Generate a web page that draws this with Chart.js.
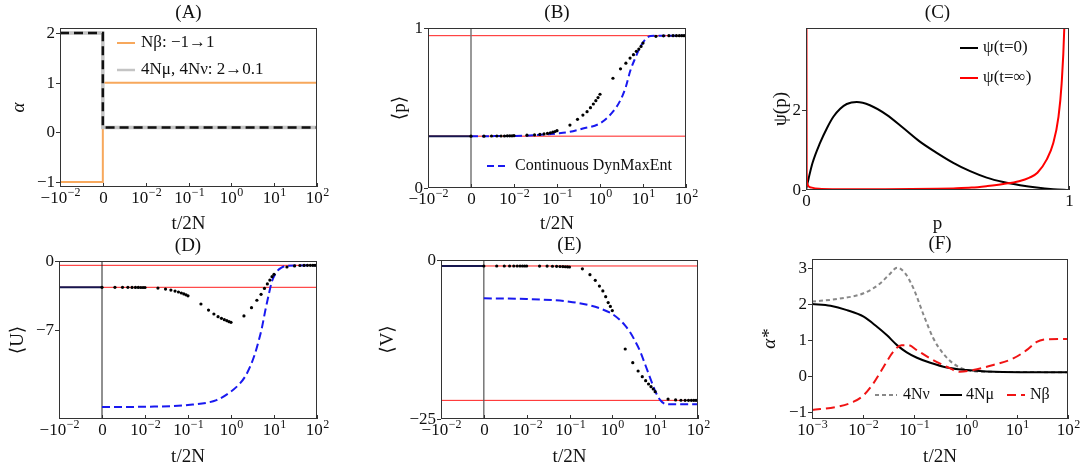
<!DOCTYPE html>
<html>
<head>
<meta charset="utf-8">
<script src="https://cdn.jsdelivr.net/npm/chart.js@4.4.1/dist/chart.umd.min.js"></script>
<style>
  html, body { margin: 0; padding: 0; background: #fff; }
  body { position: relative; width: 1083px; height: 472px; overflow: hidden; }
  .panel { position: absolute; }
</style>
</head>
<body>
<div class="panel" id="pA" style="left:8px;top:0;width:330px;height:235px"><canvas id="cA"></canvas></div>
<div class="panel" id="pB" style="left:389px;top:0;width:311px;height:235px"><canvas id="cB"></canvas></div>
<div class="panel" id="pC" style="left:770px;top:0;width:313px;height:235px"><canvas id="cC"></canvas></div>
<div class="panel" id="pD" style="left:7px;top:235px;width:331px;height:233px"><canvas id="cD"></canvas></div>
<div class="panel" id="pE" style="left:377px;top:235px;width:335px;height:233px"><canvas id="cE"></canvas></div>
<div class="panel" id="pF" style="left:759px;top:235px;width:324px;height:233px"><canvas id="cF"></canvas></div>
<script>
// ---- tick labels ----
const symTickValues = [-4, -3, -2, -1, 0, 1, 2];
const symTickLabels = [["−10", "−2"], ["0", ""], ["10", "−2"], ["10", "−1"], ["10", "0"], ["10", "1"], ["10", "2"]];
const logTickValues = [-3, -2, -1, 0, 1, 2];
const logTickLabels = [["10", "−3"], ["10", "−2"], ["10", "−1"], ["10", "0"], ["10", "1"], ["10", "2"]];

// ---- (A) parameter protocol ----
const protocolTimes = [-0.01, 0, 0, 100];
const nBeta = [-1, -1, 1, 1];
const mutationRates = [2, 2, 0.1, 0.1];

// ---- simulated points, shared times (t/2N) ----
const dotTimes = [0.001, 0.002, 0.003, 0.004, 0.005, 0.006, 0.007, 0.008, 0.009, 0.01,
  0.02, 0.03, 0.04, 0.05, 0.06, 0.07, 0.08, 0.09, 0.1,
  0.2, 0.3, 0.4, 0.5, 0.6, 0.7, 0.8, 0.9, 1,
  2, 3, 4, 5, 6, 7, 8, 9, 10,
  20, 30, 40, 50, 60, 70, 80, 90, 100];

// ---- (B) <p> ----
const pDots = [0.324, 0.324, 0.325, 0.325, 0.325, 0.325, 0.326, 0.326, 0.326, 0.327,
  0.330, 0.332, 0.335, 0.338, 0.341, 0.345, 0.349, 0.353, 0.358,
  0.393, 0.429, 0.456, 0.477, 0.502, 0.525, 0.546, 0.565, 0.586,
  0.686, 0.745, 0.780, 0.812, 0.833, 0.854, 0.868, 0.885, 0.906,
  0.948, 0.951, 0.952, 0.952, 0.952, 0.952, 0.952, 0.952, 0.952];
const pContTimes = [0.001, 0.01, 0.03, 0.1, 0.2, 0.4, 1, 2, 3, 4, 5, 6.6, 8.8, 11.5, 15, 20, 100];
const pCont = [0.324, 0.325, 0.330, 0.341, 0.351, 0.372, 0.404, 0.477, 0.550, 0.633, 0.728, 0.812, 0.885, 0.931, 0.950, 0.952, 0.952];
const pLevels = [0.324, 0.952];

// ---- (C) psi(p) ----
const psiP0 = [0, 0.01, 0.025, 0.053, 0.08, 0.104, 0.13, 0.155, 0.193, 0.243, 0.307, 0.37, 0.433, 0.497, 0.56, 0.624, 0.687, 0.75, 0.814, 0.877, 0.94, 1];
const psiStart = [0, 0.29, 0.68, 1.17, 1.55, 1.83, 2.03, 2.15, 2.2, 2.12, 1.88, 1.55, 1.21, 0.93, 0.68, 0.47, 0.31, 0.2, 0.12, 0.06, 0.02, 0];
const psiPInf = [0.001, 0.0025, 0.005, 0.01, 0.022, 0.05, 0.1, 0.3, 0.5, 0.56, 0.63, 0.69, 0.75, 0.81, 0.85, 0.88, 0.915, 0.94, 0.96, 0.972, 0.982, 0.995];
const psiEnd = [8, 0.5, 0.15, 0.09, 0.06, 0.03, 0.02, 0.02, 0.03, 0.04, 0.06, 0.1, 0.15, 0.22, 0.31, 0.43, 0.76, 1.17, 1.83, 2.66, 4.03, 8];

// ---- (D) <U> ----
const uDots = [-2.68, -2.68, -2.68, -2.68, -2.69, -2.69, -2.69, -2.70, -2.70, -2.70,
  -2.76, -2.86, -2.96, -3.06, -3.16, -3.26, -3.35, -3.45, -3.55,
  -4.38, -5.00, -5.40, -5.67, -5.84, -5.98, -6.08, -6.18, -6.25,
  -5.60, -4.76, -4.00, -3.40, -2.79, -2.34, -1.94, -1.60, -1.36,
  -0.61, -0.50, -0.46, -0.45, -0.44, -0.44, -0.44, -0.44, -0.44];
const uContTimes = [0.001, 0.01, 0.1, 0.46, 1, 1.62, 2.12, 2.78, 3.64, 4.35, 5.2, 6.2, 7.5, 8.9, 11.6, 15.3, 20, 100];
const uCont = [-14.88, -14.85, -14.68, -14.17, -13.3, -12.47, -11.79, -10.77, -9.41, -8.22, -6.86, -5.16, -3.47, -2.11, -1.09, -0.65, -0.48, -0.44];
const uLevels = [-2.68, -0.44];

// ---- (E) <V> ----
const vDots = [-0.94, -0.94, -0.94, -0.94, -0.94, -0.94, -0.94, -0.94, -0.94, -0.94,
  -0.95, -0.96, -0.98, -1.00, -1.02, -1.04, -1.06, -1.08, -1.10,
  -1.38, -2.30, -3.20, -4.10, -4.87, -5.77, -6.70, -7.30, -7.95,
  -13.99, -16.14, -17.45, -18.34, -18.97, -19.50, -19.92, -20.28, -20.70,
  -21.86, -22.00, -22.05, -22.07, -22.07, -22.07, -22.07, -22.07, -22.07];
const vContTimes = [0.001, 0.01, 0.1, 0.32, 0.56, 1, 1.5, 2, 2.6, 3.4, 4.5, 5.9, 7.7, 10, 13, 16, 21, 100];
const vCont = [-6.03, -6.13, -6.55, -7.18, -7.70, -8.49, -9.43, -10.32, -11.37, -12.74, -14.41, -16.51, -18.61, -20.6, -22.0, -22.54, -22.69, -22.7];
const vLevels = [-0.94, -22.07];

// ---- (F) alpha* ----
const nuTimes = [0.001, 0.0031, 0.0102, 0.0214, 0.0339, 0.0457, 0.0661, 0.0955, 0.151, 0.234, 0.363, 0.575, 1.05, 2.57, 100];
const nuStar = [2.06, 2.13, 2.29, 2.56, 2.84, 3.0, 2.84, 2.43, 1.69, 1.04, 0.62, 0.34, 0.16, 0.11, 0.1];
const muTimes = [0.001, 0.0023, 0.0048, 0.0102, 0.0186, 0.0288, 0.0457, 0.0708, 0.112, 0.204, 0.427, 1.05, 2.57, 11.5, 100];
const muStar = [1.99, 1.94, 1.82, 1.64, 1.36, 1.13, 0.85, 0.65, 0.5, 0.36, 0.23, 0.16, 0.12, 0.1, 0.1];
const betaTimes = [0.001, 0.0031, 0.0065, 0.0102, 0.0158, 0.0251, 0.0389, 0.0562, 0.0759, 0.112, 0.204, 0.427, 0.776, 1.41, 3.47, 8.51, 15.5, 24, 38, 100];
const betaStar = [-0.95, -0.86, -0.72, -0.54, -0.21, 0.25, 0.67, 0.85, 0.85, 0.71, 0.48, 0.25, 0.11, 0.16, 0.3, 0.48, 0.71, 0.93, 1.01, 1.02];

const SERIF = "'Liberation Serif', 'DejaVu Serif', serif";
const BLUE = "rgb(25,25,240)";
const RED = "rgb(255,30,30)";
const NAVY = "#16164f";

Chart.defaults.font.family = SERIF;
Chart.defaults.color = "#111";
Chart.defaults.animation = false;
Chart.defaults.plugins.legend.display = false;
Chart.defaults.plugins.tooltip.enabled = false;

// t < 0 is squeezed into [-4,-3], t > 0 is log10 (0 label sits at 1e-3)
const toX = (t) => (t <= 0 ? -3 + t * 100 : Math.log10(t));
const pts = (ts, vs) => ts.map((t, i) => ({ x: toX(t), y: vs[i] }));
const rawPts = (xs, vs) => xs.map((x, i) => ({ x: x, y: vs[i] }));

function line(data, color, width, dash, smooth) {
  return {
    data, borderColor: color, borderWidth: width, borderDash: dash || [],
    pointRadius: 0, fill: false, tension: smooth ? 0.4 : 0,
    cubicInterpolationMode: smooth ? "monotone" : "default",
  };
}
function dots(data) {
  return {
    data, showLine: false, pointRadius: 1.6, pointBorderWidth: 0,
    pointBackgroundColor: "#000", borderColor: "#000",
  };
}
const fmt = (v) => (v < 0 ? "−" + Math.abs(v) : String(v));

const panelPlugin = {
  id: "panel",
  afterDraw(chart, args, o) {
    const { ctx, chartArea: a, scales } = chart;
    const xs = scales.x, ys = scales.y;
    ctx.save();
    // frame
    ctx.strokeStyle = "#333";
    ctx.lineWidth = 1;
    ctx.setLineDash([]);
    ctx.strokeRect(a.left + 0.5, a.top + 0.5, a.right - a.left - 1, a.bottom - a.top - 1);
    ctx.fillStyle = "#111";
    // x ticks
    o.xTicks.forEach((v, i) => {
      const px = Math.round(xs.getPixelForValue(v)) + 0.5;
      ctx.beginPath();
      ctx.moveTo(px, a.bottom);
      ctx.lineTo(px, a.bottom - 4);
      ctx.stroke();
      const [base, exp] = o.xLabels[i];
      ctx.font = "17px " + SERIF;
      const wb = ctx.measureText(base).width;
      ctx.font = "12px " + SERIF;
      const we = exp ? ctx.measureText(exp).width + 0.5 : 0;
      const sx = px - (wb + we) / 2;
      const py = a.bottom + 12;
      ctx.textAlign = "left";
      ctx.textBaseline = "middle";
      ctx.font = "17px " + SERIF;
      ctx.fillText(base, sx, py);
      if (exp) {
        ctx.font = "12px " + SERIF;
        ctx.fillText(exp, sx + wb + 0.5, py - 6);
      }
    });
    // y ticks
    ctx.font = "17px " + SERIF;
    ctx.textAlign = "right";
    ctx.textBaseline = "middle";
    o.yTicks.forEach((v) => {
      const py = Math.round(ys.getPixelForValue(v)) + 0.5;
      ctx.beginPath();
      ctx.moveTo(a.left, py);
      ctx.lineTo(a.left - 4, py);
      ctx.stroke();
      ctx.fillText(fmt(v), a.left - 5, py);
    });
    // panel title
    ctx.font = "19px " + SERIF;
    ctx.textAlign = "center";
    ctx.fillText(o.title, (a.left + a.right) / 2, a.top - 15);
    // legend
    (o.legend || []).forEach((it) => {
      ctx.strokeStyle = it.color;
      ctx.lineWidth = it.width;
      ctx.setLineDash(it.dash || []);
      ctx.beginPath();
      ctx.moveTo(a.left + it.x0, a.top + it.y);
      ctx.lineTo(a.left + it.x1, a.top + it.y);
      ctx.stroke();
      ctx.setLineDash([]);
      ctx.font = it.size + "px " + SERIF;
      ctx.textAlign = "left";
      ctx.textBaseline = "middle";
      ctx.fillStyle = "#111";
      ctx.fillText(it.text, a.left + it.tx, a.top + it.y);
    });
    ctx.restore();
  },
};

function makeChart(id, g, datasets, panel) {
  return new Chart(document.getElementById(id), {
    type: "line",
    data: { datasets },
    options: {
      responsive: true,
      maintainAspectRatio: false,
      layout: { padding: { top: g.padTop, right: g.padRight, left: 0, bottom: 0 } },
      scales: {
        x: {
          type: "linear", min: g.xMin, max: g.xMax,
          grid: { display: false }, border: { display: false }, ticks: { display: false },
          title: { display: true, text: g.xTitle, font: { size: 19 }, color: "#111", padding: 0 },
          afterFit(s) { s.height = g.xAxisH; },
        },
        y: {
          type: "linear", min: g.yMin, max: g.yMax,
          grid: { display: false }, border: { display: false }, ticks: { display: false },
          title: { display: true, text: g.yTitle, font: { size: 19, style: g.yItalic ? "italic" : "normal" }, color: "#111", padding: 0 },
          afterFit(s) { s.width = g.yAxisW; },
        },
      },
      plugins: { panel },
    },
    plugins: [panelPlugin],
  });
}

const fullSpan = (v) => [{ x: -4, y: v }, { x: 2, y: v }];
const preState = (v) => pts([-0.01, 0], [v, v]);
const zeroLine = (lo, hi) => [{ x: -3, y: lo }, { x: -3, y: hi }];

// (A)
makeChart("cA",
  { padTop: 28, padRight: 21, xAxisH: 48, yAxisW: 52, xMin: -4, xMax: 2, yMin: -1.1, yMax: 2.1, xTitle: "t/2N", yTitle: "α", yItalic: true },
  [
    line(pts(protocolTimes, mutationRates), "#111", 2.5, [9, 5]),
    line(pts(protocolTimes, mutationRates), "#c4c4c4", 3.5),
    line(pts(protocolTimes, nBeta), "rgb(247,168,92)", 2),
  ],
  {
    title: "(A)", xTicks: symTickValues, xLabels: symTickLabels, yTicks: [-1, 0, 1, 2],
    legend: [
      { x0: 57, x1: 75, tx: 81, y: 15, color: "rgb(247,168,92)", width: 2, text: "Nβ: −1→1", size: 17 },
      { x0: 57, x1: 75, tx: 81, y: 42, color: "#c4c4c4", width: 2.5, text: "4Nμ, 4Nν: 2→0.1", size: 17 },
    ],
  });

// (B)
makeChart("cB",
  { padTop: 28, padRight: 14, xAxisH: 47, yAxisW: 39, xMin: -4, xMax: 2, yMin: 0, yMax: 1, xTitle: "t/2N", yTitle: "⟨p⟩" },
  [
    dots(pts(dotTimes, pDots)),
    line(pts(pContTimes, pCont), BLUE, 2, [7, 4], true),
    line(preState(pDots[0]), NAVY, 2),
    line(zeroLine(0, 1), "#777", 1.5),
    line(fullSpan(pLevels[0]), RED, 1),
    line(fullSpan(pLevels[1]), RED, 1),
  ],
  {
    title: "(B)", xTicks: symTickValues, xLabels: symTickLabels, yTicks: [0, 1],
    legend: [{ x0: 59, x1: 79, tx: 87, y: 138, color: BLUE, width: 2, dash: [7, 4], text: "Continuous DynMaxEnt", size: 16 }],
  });

// (C)
makeChart("cC",
  { padTop: 28, padRight: 14, xAxisH: 45, yAxisW: 36, xMin: 0, xMax: 1, yMin: 0, yMax: 4.05, xTitle: "p", yTitle: "ψ(p)" },
  [
    line(rawPts(psiPInf, psiEnd), "rgb(255,0,0)", 2, [], true),
    line(rawPts(psiP0, psiStart), "#000", 2, [], true),
  ],
  {
    title: "(C)", xTicks: [0, 1], xLabels: [["0", ""], ["1", ""]], yTicks: [0, 2],
    legend: [
      { x0: 154, x1: 172, tx: 177, y: 20, color: "#000", width: 2, text: "ψ(t=0)", size: 17 },
      { x0: 154, x1: 172, tx: 177, y: 50, color: "rgb(255,0,0)", width: 2, text: "ψ(t=∞)", size: 17 },
    ],
  });

// (D)
makeChart("cD",
  { padTop: 26, padRight: 21, xAxisH: 49, yAxisW: 52, xMin: -4, xMax: 2, yMin: -16.1, yMax: 0, xTitle: "t/2N", yTitle: "⟨U⟩" },
  [
    dots(pts(dotTimes, uDots)),
    line(pts(uContTimes, uCont), BLUE, 2, [8, 4], true),
    line(preState(uDots[0]), NAVY, 2),
    line(zeroLine(-16.1, 0), "#222", 1),
    line(fullSpan(uLevels[0]), RED, 1),
    line(fullSpan(uLevels[1]), RED, 1),
  ],
  { title: "(D)", xTicks: symTickValues, xLabels: symTickLabels, yTicks: [-7, 0] });

// (E)
makeChart("cE",
  { padTop: 25, padRight: 14, xAxisH: 49, yAxisW: 64, xMin: -4, xMax: 2, yMin: -25, yMax: 0, xTitle: "t/2N", yTitle: "⟨V⟩" },
  [
    dots(pts(dotTimes, vDots)),
    line(pts(vContTimes, vCont), BLUE, 2, [8, 4], true),
    line(preState(vDots[0]), NAVY, 2),
    line(zeroLine(-25, 0), "#555", 1.2),
    line(fullSpan(vLevels[0]), RED, 1),
    line(fullSpan(vLevels[1]), RED, 1),
  ],
  { title: "(E)", xTicks: symTickValues, xLabels: symTickLabels, yTicks: [-25, 0] });

// (F)
makeChart("cF",
  { padTop: 24, padRight: 15, xAxisH: 49, yAxisW: 53, xMin: -3, xMax: 2, yMin: -1.2, yMax: 3.24, xTitle: "t/2N", yTitle: "α*", yItalic: true },
  [
    line(pts(betaTimes, betaStar), "rgb(240,20,20)", 2, [9, 5], true),
    line(pts(muTimes, muStar), "#000", 2, [], true),
    line(pts(nuTimes, nuStar), "#888", 2, [4, 3], true),
  ],
  {
    title: "(F)", xTicks: logTickValues, xLabels: logTickLabels, yTicks: [-1, 0, 1, 2, 3],
    legend: [
      { x0: 63, x1: 85, tx: 91, y: 136, color: "#888", width: 2, dash: [4, 3], text: "4Nν", size: 16 },
      { x0: 128, x1: 150, tx: 154, y: 136, color: "#000", width: 2, text: "4Nμ", size: 16 },
      { x0: 195, x1: 213, tx: 218, y: 136, color: "rgb(240,20,20)", width: 2, dash: [9, 5], text: "Nβ", size: 16 },
    ],
  });
</script>
</body>
</html>
